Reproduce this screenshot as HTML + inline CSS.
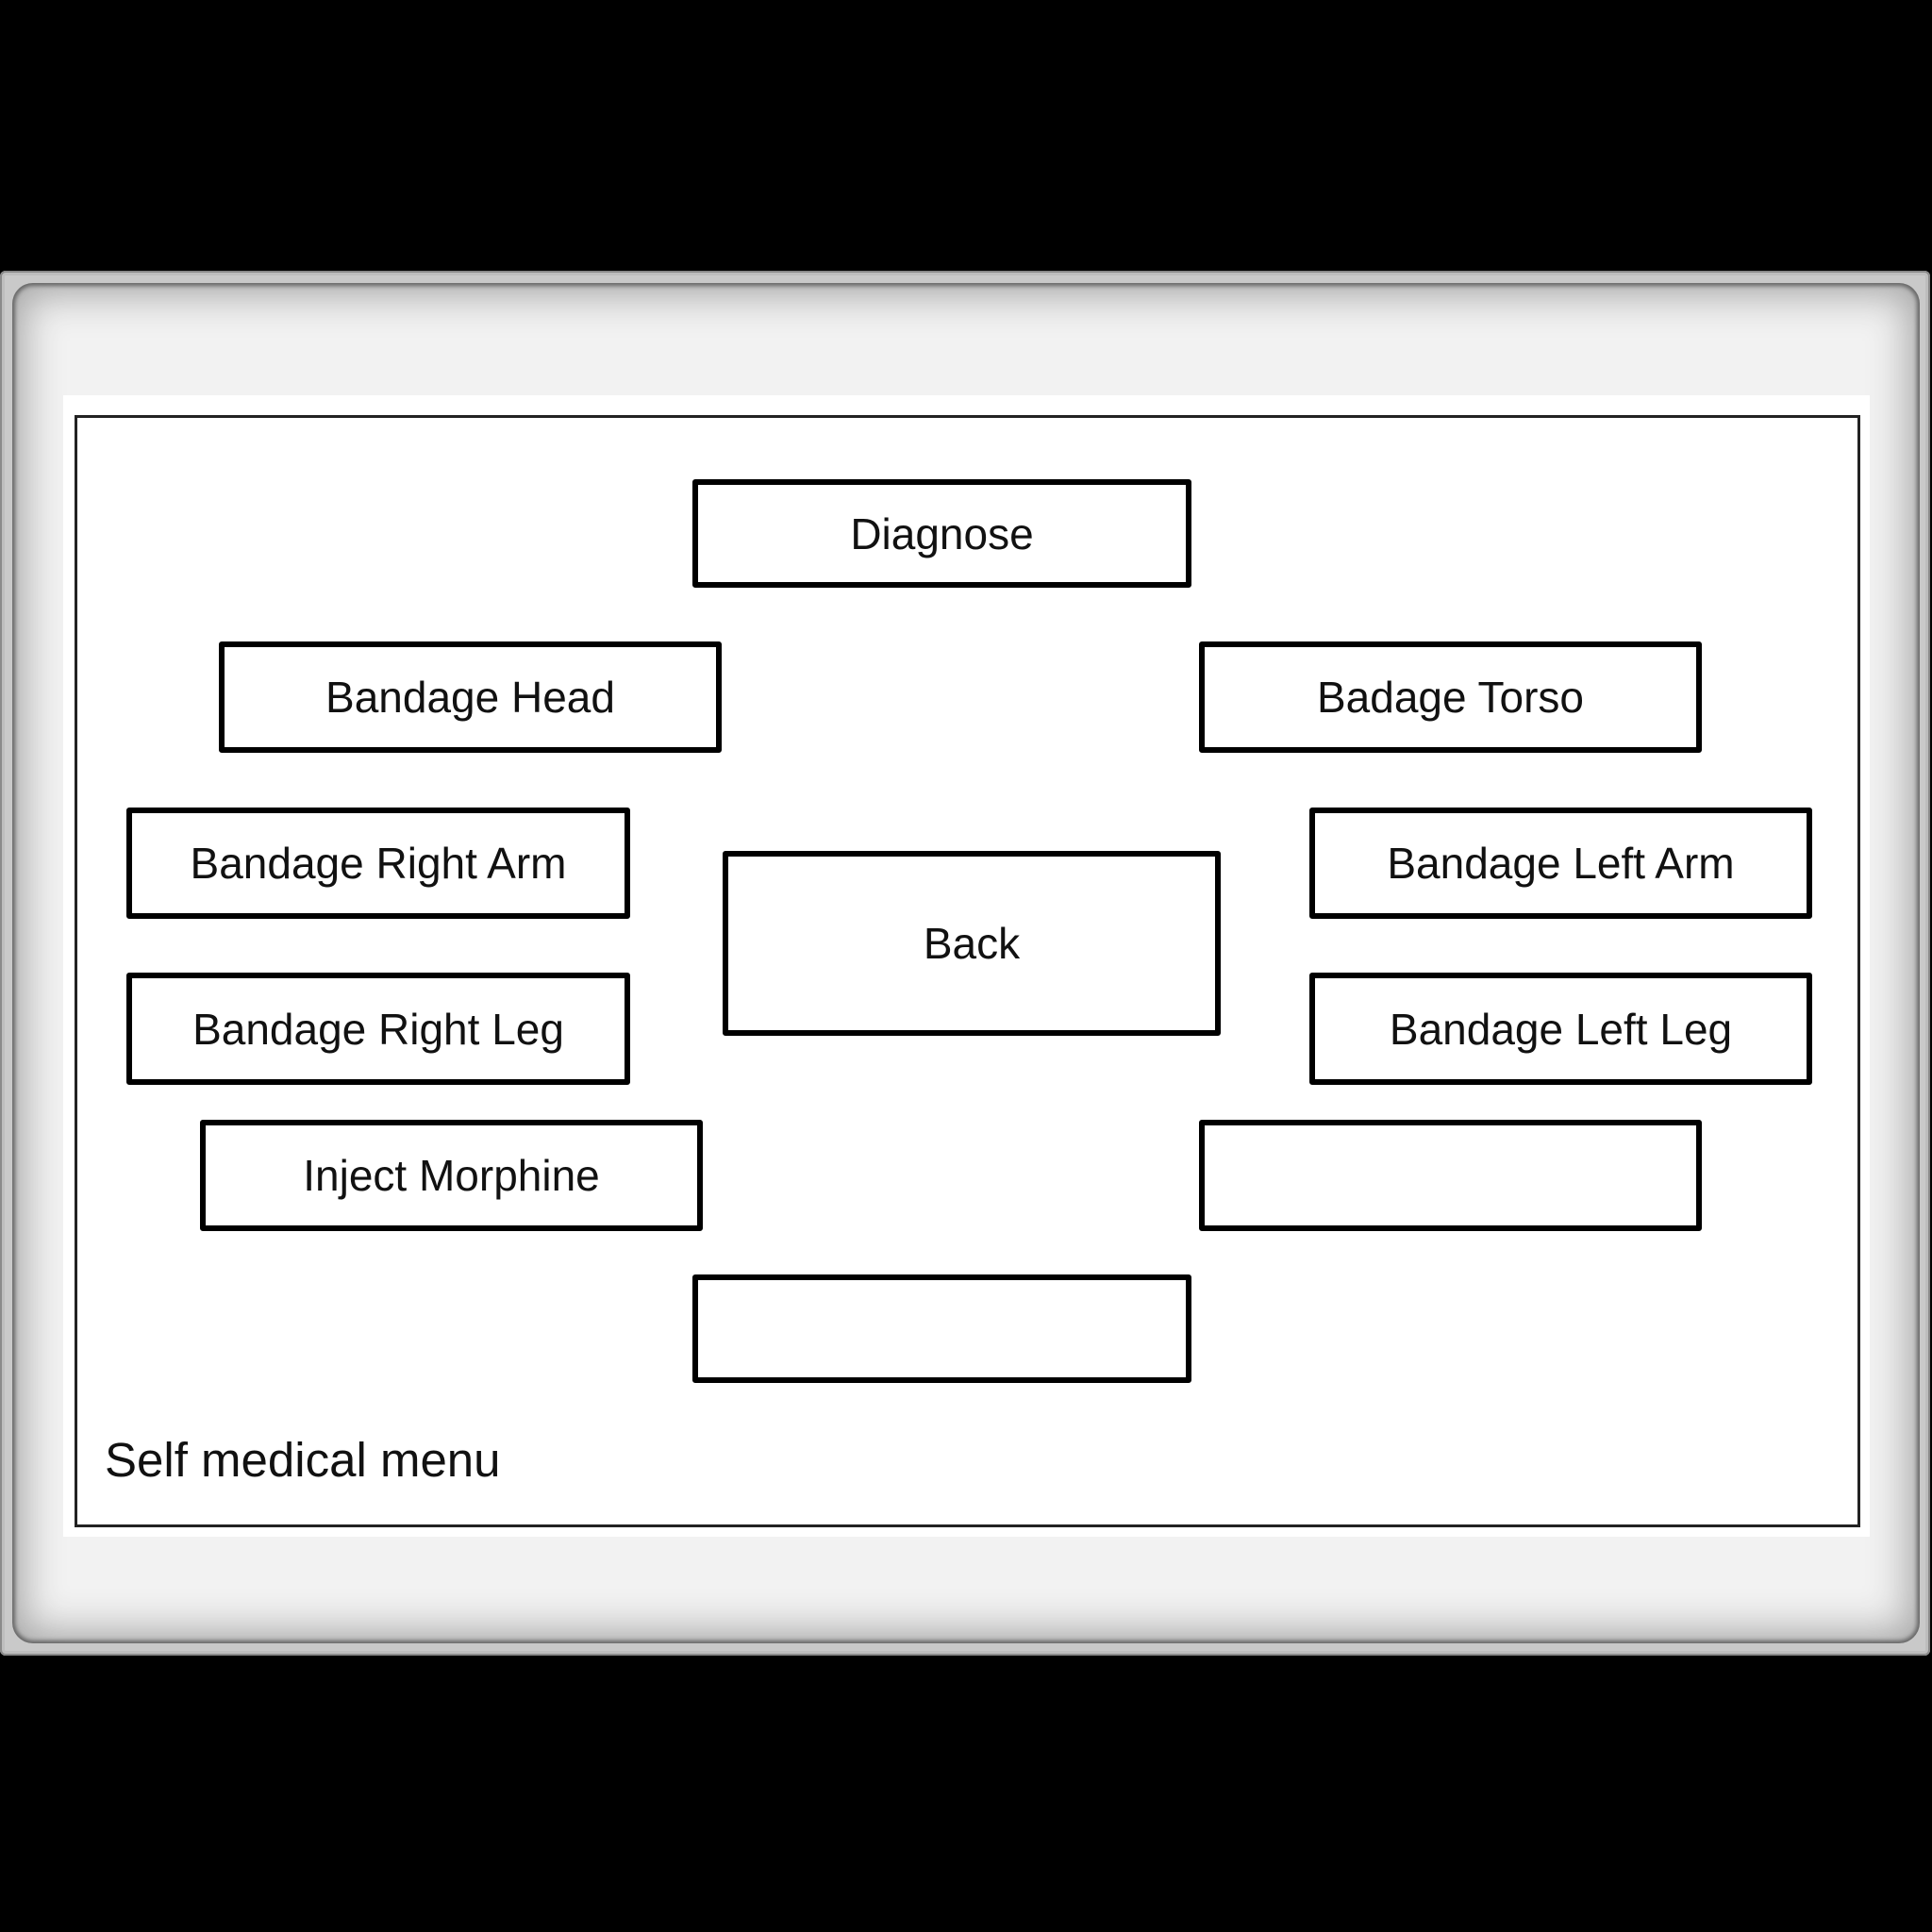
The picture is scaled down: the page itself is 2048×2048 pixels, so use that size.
<!DOCTYPE html>
<html><head><meta charset="utf-8"><style>
html,body{margin:0;padding:0;background:#000;width:2048px;height:2048px;overflow:hidden;position:relative;font-family:"Liberation Sans",Arial,sans-serif}
.frame{position:absolute;left:0;top:287px;width:2046px;height:1468px;background:#c9c9c9;box-shadow:inset 0 0 0 2px #8a8a8a, inset 0 0 0 5px #bdbdbd;border-radius:6px}
.inner{position:absolute;left:13px;top:300px;width:2022px;height:1442px;background:#f2f2f2;border-radius:22px;box-shadow:inset 0 0 4px 3px #666, inset 0 0 40px 14px #aaa}
.panel{position:absolute;left:67px;top:419px;width:1915px;height:1210px;background:#fff}
.border{position:absolute;left:79px;top:440px;width:1887px;height:1173px;border:3px solid #222}
.b{position:absolute;box-sizing:border-box;border:6px solid #000;border-radius:3px;background:#fff;display:flex;align-items:center;justify-content:center;font-size:46px;color:#111}
.lbl{position:absolute;left:111px;top:1518px;font-size:51px;color:#111;line-height:60px}
</style></head><body>
<div class="frame"></div>
<div class="inner"></div>
<div class="panel"></div>
<div class="border"></div>
<div class="b" style="left:734px;top:508px;width:529px;height:115px">Diagnose</div>
<div class="b" style="left:232px;top:680px;width:533px;height:118px">Bandage Head</div>
<div class="b" style="left:1271px;top:680px;width:533px;height:118px">Badage Torso</div>
<div class="b" style="left:134px;top:856px;width:534px;height:118px">Bandage Right Arm</div>
<div class="b" style="left:1388px;top:856px;width:533px;height:118px">Bandage Left Arm</div>
<div class="b" style="left:766px;top:902px;width:528px;height:196px">Back</div>
<div class="b" style="left:134px;top:1031px;width:534px;height:119px">Bandage Right Leg</div>
<div class="b" style="left:1388px;top:1031px;width:533px;height:119px">Bandage Left Leg</div>
<div class="b" style="left:212px;top:1187px;width:533px;height:118px">Inject Morphine</div>
<div class="b" style="left:1271px;top:1187px;width:533px;height:118px"></div>
<div class="b" style="left:734px;top:1351px;width:529px;height:115px"></div>
<div class="lbl">Self medical menu</div>
</body></html>
